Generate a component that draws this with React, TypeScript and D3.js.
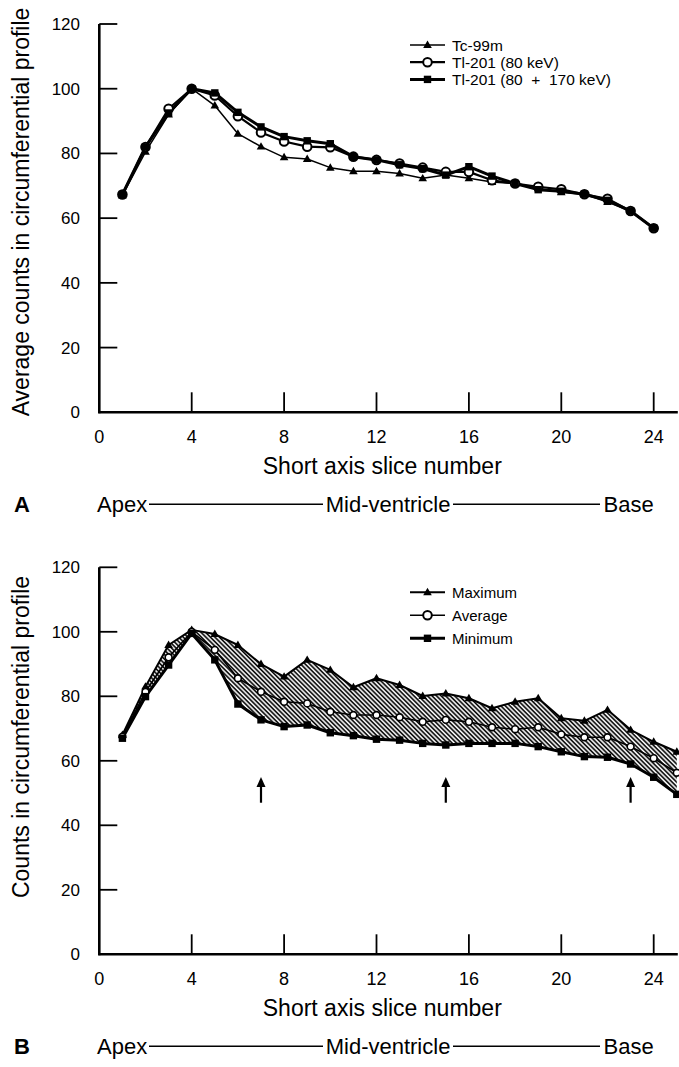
import * as d3 from 'd3';

const FONT = "'Liberation Sans', Arial, Helvetica, sans-serif";

// slice numbers
const slicesA = [1, 2, 3, 4, 5, 6, 7, 8, 9, 10, 11, 12, 13, 14, 15, 16, 17, 18, 19, 20, 21, 22, 23, 24];
const slicesB = [1, 2, 3, 4, 5, 6, 7, 8, 9, 10, 11, 12, 13, 14, 15, 16, 17, 18, 19, 20, 21, 22, 23, 24, 25];

// panel A
const tc99m = [67, 80.5, 92, 100, 94.8, 86.1, 82.1, 78.8, 78.3, 75.6, 74.5, 74.5, 73.8, 72.3, 73.3, 72.3, 71.2, 70.7, 69.2, 68, 67.4, 65, 62.2, 56.9];
const tl80 = [67.3, 82, 93.8, 100, 97.9, 91.5, 86.5, 83.7, 82.1, 81.9, 79, 78, 76.9, 75.6, 74.3, 74.3, 71.7, 70.7, 69.7, 68.9, 67.4, 66, 62.2, 56.9];
const tl80170 = [67.3, 82, 92.5, 100, 98.7, 92.7, 88.2, 85.2, 83.9, 83, 79, 78, 76.5, 75.3, 73.3, 75.9, 73, 70.7, 68.8, 68.3, 67.4, 65.5, 62.2, 56.9];

// panel B
const maxVals = [68, 83, 95.9, 100.6, 99.3, 95.9, 90, 86.1, 91.3, 88.2, 82.8, 85.6, 83.5, 80.1, 80.9, 79.4, 76.3, 78.3, 79.4, 73.2, 72.4, 75.8, 69.6, 65.9, 62.8];
const avgVals = [67.5, 81.4, 92.1, 100, 94.4, 85.6, 81.4, 78.3, 77.8, 75.2, 74.2, 74.2, 73.5, 72.1, 72.7, 72.1, 70.4, 69.8, 70.4, 68.2, 67.3, 67.3, 64.4, 60.8, 56.3];
const minVals = [67, 79.9, 89.7, 99.5, 91.3, 77.6, 72.7, 70.6, 71.1, 68.7, 67.8, 66.7, 66.4, 65.4, 64.9, 65.4, 65.4, 65.4, 64.4, 62.8, 61.3, 61.1, 59, 54.9, 49.6];

const arrowSlices = [7, 15, 23];
const arrowRange = [47, 55];

const yTicks = [0, 20, 40, 60, 80, 100, 120];
const xTicks = [0, 4, 8, 12, 16, 20, 24];

function Marker({ type, cx, cy }) {
  if (type === 'tri') {
    return <path d={d3.symbol(d3.symbolTriangle, 32)()} transform={`translate(${cx},${cy + 0.5})`} fill="#000" />;
  }
  if (type === 'square') {
    return <rect x={cx - 3.7} y={cy - 3.7} width={7.4} height={7.4} fill="#000" />;
  }
  if (type === 'circle') {
    return <circle cx={cx} cy={cy} r={4.3} fill="#fff" stroke="#000" strokeWidth={2} />;
  }
  // small white circle
  return <circle cx={cx} cy={cy} r={3.4} fill="#fff" stroke="#000" strokeWidth={1.6} />;
}

function Panel({ top, base, letter, yLabel, yLabelMid, series, legend, hatch, arrows }) {
  const x = d3.scaleLinear().domain([0, 24]).range([99.3, 653.7]);
  const y = d3.scaleLinear().domain([0, 120]).range([base, top]);
  const line = d3.line().x(d => x(d[0])).y(d => y(d[1]));

  let hatchPath = null;
  if (hatch) {
    const area = d3.area()
      .x((d, i) => x(hatch.xs[i]))
      .y0((d, i) => y(hatch.lo[i]))
      .y1((d, i) => y(hatch.hi[i]));
    hatchPath = area(hatch.xs);
  }

  return (
    <g fontFamily={FONT}>
      {hatchPath && <path d={hatchPath} fill="url(#hatch)" stroke="none" />}

      {/* axes */}
      <line x1={x(0)} x2={x(0)} y1={y(0) + 1} y2={y(120)} stroke="#000" strokeWidth={2.6} />
      <line x1={x(0) - 1} x2={x(25) + 1} y1={y(0)} y2={y(0)} stroke="#000" strokeWidth={2.6} />
      {yTicks.map(t => (
        <g key={'y' + t}>
          {t > 0 && <line x1={x(0)} x2={x(0) + 18} y1={y(t)} y2={y(t)} stroke="#000" strokeWidth={1.8} />}
          <text x={80} y={y(t) + 6} fontSize={17} textAnchor="end">{t}</text>
        </g>
      ))}
      {xTicks.map(t => (
        <g key={'x' + t}>
          {t > 0 && <line x1={x(t)} x2={x(t)} y1={y(0)} y2={y(0) - 20} stroke="#000" strokeWidth={1.8} />}
          <text x={x(t)} y={y(0) + 31} fontSize={18} textAnchor="middle">{t}</text>
        </g>
      ))}

      {/* axis titles */}
      <text x={x(12.25)} y={y(0) + 62} fontSize={23} textAnchor="middle">Short axis slice number</text>
      <text transform={`translate(29,${yLabelMid}) rotate(-90)`} fontSize={23} textAnchor="middle">{yLabel}</text>

      {/* series */}
      {series.map(s => (
        <path key={s.name + 'l'} d={line(s.xs.map((v, i) => [v, s.ys[i]]))} fill="none" stroke="#000" strokeWidth={s.width} strokeLinejoin="round" />
      ))}
      {series.map(s => (
        <g key={s.name + 'm'}>
          {s.xs.map((v, i) => <Marker key={i} type={s.marker} cx={x(v)} cy={y(s.ys[i])} />)}
        </g>
      ))}

      {/* arrows */}
      {arrows && arrows.map(a => (
        <g key={'a' + a}>
          <line x1={x(a)} x2={x(a)} y1={y(arrowRange[0])} y2={y(arrowRange[1]) + 6} stroke="#000" strokeWidth={2.2} />
          <path d={`M${x(a)},${y(arrowRange[1])} L${x(a) + 4.5},${y(arrowRange[1]) + 10} L${x(a) - 4.5},${y(arrowRange[1]) + 10} Z`} fill="#000" />
        </g>
      ))}

      {/* legend */}
      {series.map((s, i) => {
        const ly = legend.y + i * legend.gap;
        return (
          <g key={s.name + 'g'}>
            <line x1={410} x2={445} y1={ly} y2={ly} stroke="#000" strokeWidth={s.width} />
            <Marker type={s.marker === 'small' ? 'circle' : s.marker} cx={427.5} cy={ly} />
            <text x={452} y={ly + 5.5} fontSize={legend.size} xmlSpace="preserve">{s.name}</text>
          </g>
        );
      })}

      {/* apex / base row */}
      <text x={14} y={y(0) + 100} fontSize={22} fontWeight="bold">{letter}</text>
      <text x={97} y={y(0) + 100} fontSize={22}>Apex</text>
      <line x1={149} x2={323} y1={y(0) + 92} y2={y(0) + 92} stroke="#000" strokeWidth={1.5} />
      <text x={x(12.5)} y={y(0) + 100} fontSize={22} textAnchor="middle">Mid-ventricle</text>
      <line x1={453} x2={600} y1={y(0) + 92} y2={y(0) + 92} stroke="#000" strokeWidth={1.5} />
      <text x={x(24)} y={y(0) + 100} fontSize={22} textAnchor="end">Base</text>
    </g>
  );
}

export default function App() {
  return (
    <svg width={679} height={1067} style={{ position: 'absolute', left: 0, top: 0, background: '#fff' }}>
      <defs>
        <pattern id="hatch" width={3.2} height={3.2} patternUnits="userSpaceOnUse" patternTransform="rotate(45)">
          <line x1={0} x2={3.2} y1={1} y2={1} stroke="#000" strokeWidth={1.6} />
        </pattern>
      </defs>
      <rect width={679} height={1067} fill="#fff" />
      <Panel
        top={24}
        base={412.3}
        letter="A"
        yLabel="Average counts in circumferential profile"
        yLabelMid={212}
        legend={{ y: 45, gap: 17.2, size: 15.5 }}
        series={[
          { name: 'Tc-99m', xs: slicesA, ys: tc99m, width: 1.5, marker: 'tri' },
          { name: 'Tl-201 (80 keV)', xs: slicesA, ys: tl80, width: 2.2, marker: 'circle' },
          { name: 'Tl-201 (80  +  170 keV)', xs: slicesA, ys: tl80170, width: 3, marker: 'square' },
        ]}
      />
      <Panel
        top={567.3}
        base={954.3}
        letter="B"
        yLabel="Counts in circumferential profile"
        yLabelMid={737}
        legend={{ y: 592.3, gap: 23, size: 15 }}
        hatch={{ xs: slicesB, lo: minVals, hi: maxVals }}
        arrows={arrowSlices}
        series={[
          { name: 'Maximum', xs: slicesB, ys: maxVals, width: 2, marker: 'tri' },
          { name: 'Average', xs: slicesB, ys: avgVals, width: 1.6, marker: 'small' },
          { name: 'Minimum', xs: slicesB, ys: minVals, width: 3, marker: 'square' },
        ]}
      />
    </svg>
  );
}
